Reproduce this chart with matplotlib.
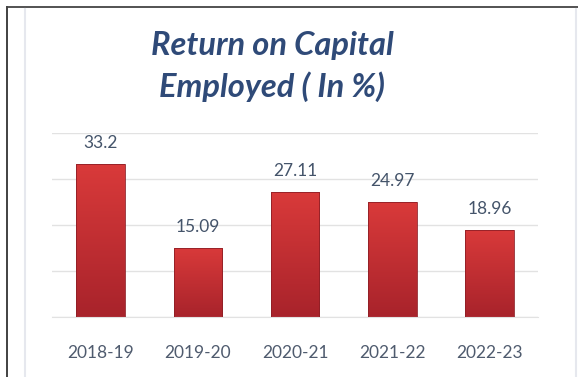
import numpy as np
import matplotlib
matplotlib.use("Agg")
import matplotlib.pyplot as plt
from matplotlib.colors import LinearSegmentedColormap
from matplotlib.lines import Line2D

years = ["2018-19", "2019-20", "2020-21", "2021-22", "2022-23"]
roce = [33.2, 15.09, 27.11, 24.97, 18.96]
value_labels = ["33.2", "15.09", "27.11", "24.97", "18.96"]

W, H = 578, 377
fig = plt.figure(figsize=(W / 100, H / 100), dpi=100)
fig.patch.set_facecolor("white")

# frame lines around the chart panel
fig.add_artist(Line2D([7 / W, 7 / W], [0, 1 - 7 / H], color="#333333", lw=1.3))
fig.add_artist(Line2D([7 / W, 1], [1 - 7 / H, 1 - 7 / H], color="#444444", lw=1.3))
fig.add_artist(Line2D([25 / W, 25 / W], [0, 1 - 9 / H], color="#e6e8ee", lw=1.5))
fig.add_artist(Line2D([576 / W, 576 / W], [0, 1 - 9 / H], color="#e6e8ee", lw=1.5))

ax = fig.add_axes([52 / W, (H - 317) / H, (538 - 52) / W, (317 - 133) / H])
ax.set_facecolor("none")

x = np.arange(len(years))
bars = ax.bar(x, roce, width=0.5, color="none", edgecolor="#8e1f26", linewidth=0.6, zorder=3)

cmap = LinearSegmentedColormap.from_list("bar_red", ["#a8232b", "#d93a3a"])
grad = np.linspace(0, 1, 256).reshape(-1, 1)
for b in bars:
    x0, w, h = b.get_x(), b.get_width(), b.get_height()
    im = ax.imshow(grad, cmap=cmap, origin="lower", aspect="auto",
                   extent=[x0, x0 + w, 0, h], zorder=2)
    im.set_clip_path(b)

for xi, v, lab in zip(x, roce, value_labels):
    ax.annotate(lab, (xi, v), xytext=(0, 15), textcoords="offset points",
                ha="center", va="center", fontsize=12.5, color="#44546a",
                family="Lato")

ax.set_xlim(-0.5, len(years) - 0.5)
ax.set_ylim(0, 40)
ax.set_yticks([0, 10, 20, 30, 40])
ax.yaxis.grid(True, color="#e2e2e2", lw=1.0)
ax.set_axisbelow(True)
ax.tick_params(axis="y", left=False, labelleft=False)
ax.tick_params(axis="x", bottom=False, pad=17)
ax.set_xticks(x)
ax.set_xticklabels(years, fontsize=12.5, color="#4f5b6e", family="Lato")
for s in ["top", "right", "left"]:
    ax.spines[s].set_visible(False)
ax.spines["bottom"].set_color("#e2e2e2")

fig.text(272 / W, 1 - 46 / H, "Return on Capital", ha="center", va="center",
         fontsize=23.5, fontstyle="italic", fontweight="bold", color="#2f4a78",
         family="Lato")
fig.text(272 / W, 1 - 87 / H, "Employed ( In %)", ha="center", va="center",
         fontsize=23.5, fontstyle="italic", fontweight="bold", color="#2f4a78",
         family="Lato")

fig.savefig("out.png", dpi=100)
